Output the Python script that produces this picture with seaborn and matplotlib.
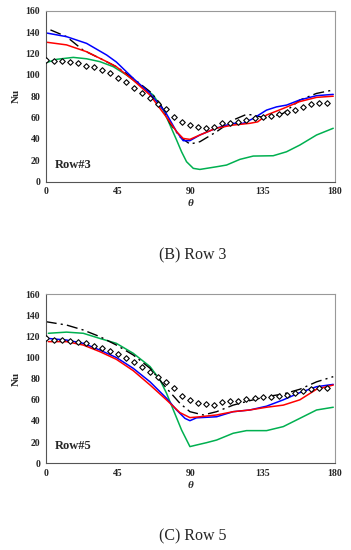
import numpy as np
import pandas as pd
import matplotlib
matplotlib.use('Agg')
import matplotlib.pyplot as plt
import seaborn as sns

# ---- Row 3 data ----
r3_blue_x = [1, 13, 25.5, 38, 44, 54.5, 65, 75, 81.5, 85.6, 89.8, 96, 106, 116.7, 123, 129, 137.5, 143.7, 150, 158, 168.6, 179]
r3_blue_y = [139, 135.7, 129.4, 118.5, 112, 96.7, 82.6, 64, 46.8, 38.4, 38.4, 43.7, 50, 54.6, 54.6, 59, 67, 70, 71.7, 76.4, 80.5, 81.7]

r3_red_x = [1, 13, 25.5, 38, 44, 54.5, 65, 75, 81.5, 85.6, 89.8, 96, 106, 116.7, 127, 132, 137.5, 148, 158, 168.6, 179]
r3_red_y = [130.4, 128, 121.6, 112.3, 107.6, 95, 81, 60.8, 46.8, 40.5, 39.6, 43.7, 50, 53, 54.6, 56, 62.4, 68.6, 74.9, 78.9, 80]

r3_green_x = [1, 6.9, 17.2, 25.5, 33.8, 42.1, 50.4, 58.7, 67, 73.2, 77.4, 81.5, 84.6, 87.7, 91.9, 96, 106.4, 112.6, 120.9, 129.2, 141.6, 149.9, 158.2, 168.6, 179]
r3_green_y = [111.7, 114.5, 116.3, 115, 112.3, 107.6, 99.8, 90.5, 81, 67, 53, 39, 28, 18.7, 12.5, 11.5, 14, 15.6, 20.9, 24, 24.3, 28, 34.3, 43.7, 50]

r3_black_x = [3, 13, 23.4, 33.8, 44, 54.5, 65, 71.2, 77.4, 83.6, 89.8, 96, 106.4, 116.7, 125, 129.2, 137.5, 147.9, 158.2, 168.6, 179]
r3_black_y = [142, 135.7, 123, 115.4, 107.6, 96.7, 84.2, 73.3, 54.6, 42, 35.2, 37.4, 46.8, 57.7, 63, 62.4, 59.3, 64, 76.4, 82.6, 85.8]

r3_exp_x = list(range(0, 180, 5))
r3_exp_y = [113.9, 113, 113, 111.7, 110.7, 108.5, 107, 104.5, 102, 97.3, 93, 88, 83.3, 78.6, 72.4, 67.7,
            60.2, 55.8, 53.3, 50.8, 50, 51.5, 54.6, 54.6, 56, 57.7, 59.3, 60.2, 61.4, 63.3, 64.9, 67,
            70.2, 72.4, 73.3, 73.3]

# ---- Row 5 data ----
r5_blue_x = [1.7, 13, 23.4, 33.8, 44, 54.5, 65, 75.3, 81.5, 86.7, 89.8, 93.9, 106.4, 116.7, 127, 137.5, 147.9, 158.2, 168.6, 179]
r5_blue_y = [118, 116.5, 113.4, 107, 100, 89.8, 77, 61.4, 50.4, 42.5, 40.3, 43, 44, 48.8, 50.4, 54, 60, 66.8, 72.4, 74.6]

r5_red_x = [1.7, 13, 23.4, 33.8, 44, 54.5, 65, 75.3, 83.6, 89.8, 96, 106.4, 116.7, 127, 137.5, 147.9, 158.2, 168.6, 179]
r5_red_y = [115, 115, 111.8, 105.5, 98.3, 87.6, 74, 59.8, 47.9, 43.2, 44, 45.7, 48.8, 50.4, 53, 55, 60, 70, 74]

r5_green_x = [1.7, 13, 23.4, 33.8, 44, 54.5, 65, 71.2, 75.3, 79.5, 84.6, 89.8, 93.9, 100.1, 106.4, 116.7, 125, 137.5, 147.9, 158.2, 168.6, 179]
r5_green_y = [122.9, 124, 122.9, 118, 113.4, 104, 91.4, 78.8, 66, 50.4, 31.5, 15.8, 17.3, 19.5, 22, 28.4, 30.9, 30.9, 34.7, 42.5, 50.4, 53]

r5_black_x = [0, 13, 23.4, 33.8, 44, 54.5, 65, 75.3, 83.6, 89.8, 98.1, 106.4, 116.7, 127, 137.5, 147.9, 158.2, 168.6, 179]
r5_black_y = [133.9, 130.7, 126, 119.7, 111.8, 102.4, 89.8, 70.9, 56.7, 48.8, 45.7, 48.8, 55, 59.2, 63, 65.5, 70, 77, 81.9]

r5_exp_x = list(range(0, 180, 5))
r5_exp_y = [118, 117, 117, 116, 115, 113.4, 111.2, 108.7, 106.5, 103.3, 99.2, 95.4, 90.7, 86.6, 81.3, 76.5,
            71.5, 64, 59.9, 57.3, 55.8, 55, 57.6, 58.9, 58.9, 60.5, 61.4, 62.4, 63, 63.6, 64.6, 66.8,
            68.4, 70, 70.9, 70.9]

xticks = [0, 45, 90, 135, 180]
yticks = [0, 20, 40, 60, 80, 100, 120, 140, 160]

sns.set_style('white')
plt.rcParams['font.family'] = ['Liberation Serif', 'DejaVu Serif']

fig = plt.figure(figsize=(3.51, 5.5), dpi=100)
ax1 = fig.add_axes([0.130, 0.6696, 0.824, 0.311])
ax2 = fig.add_axes([0.130, 0.1576, 0.824, 0.3078])


def draw(ax, blue, red, green, black, exp, label):
    sns.lineplot(x=green[0], y=green[1], ax=ax, color='#00b050', lw=1.1)
    sns.lineplot(x=black[0], y=black[1], ax=ax, color='black', lw=1.0, linestyle=(0, (8, 3, 1.5, 3)))
    sns.lineplot(x=blue[0], y=blue[1], ax=ax, color='#0000ff', lw=1.1)
    sns.lineplot(x=red[0], y=red[1], ax=ax, color='#ff0000', lw=1.1)
    # experimental points
    sns.scatterplot(x=exp[0], y=exp[1], ax=ax, marker='D', s=8, facecolor='white',
                    edgecolor='black', linewidth=0.8, zorder=5)
    ax.set_xlim(0, 180)
    ax.set_ylim(0, 160)
    ax.set_xticks(xticks)
    ax.set_yticks(yticks)
    ax.tick_params(length=0, labelsize=7, pad=4)
    for t in ax.get_xticklabels() + ax.get_yticklabels():
        t.set_fontweight('bold')
    ax.set_ylabel('Nu', fontsize=8, fontweight='bold', labelpad=3)
    ax.set_xlabel('θ', fontsize=8, fontweight='bold', style='italic', labelpad=2)
    for side in ['top', 'right']:
        ax.spines[side].set_color('#999999')
        ax.spines[side].set_linewidth(0.8)
    for side in ['left', 'bottom']:
        ax.spines[side].set_color('#555555')
        ax.spines[side].set_linewidth(0.8)
    ax.text(5.8, 16, label, fontsize=9, fontweight='bold', va='center', ha='left')


draw(ax1, (r3_blue_x, r3_blue_y), (r3_red_x, r3_red_y), (r3_green_x, r3_green_y),
     (r3_black_x, r3_black_y), (r3_exp_x, r3_exp_y), 'Row#3')
draw(ax2, (r5_blue_x, r5_blue_y), (r5_red_x, r5_red_y), (r5_green_x, r5_green_y),
     (r5_black_x, r5_black_y), (r5_exp_x, r5_exp_y), 'Row#5')

fig.text(0.548, 1 - 255 / 550, '(B) Row 3', fontsize=11.5, ha='center', va='center')
fig.text(0.548, 1 - 536 / 550, '(C) Row 5', fontsize=11.5, ha='center', va='center')

fig.savefig('out.png', dpi=100)
